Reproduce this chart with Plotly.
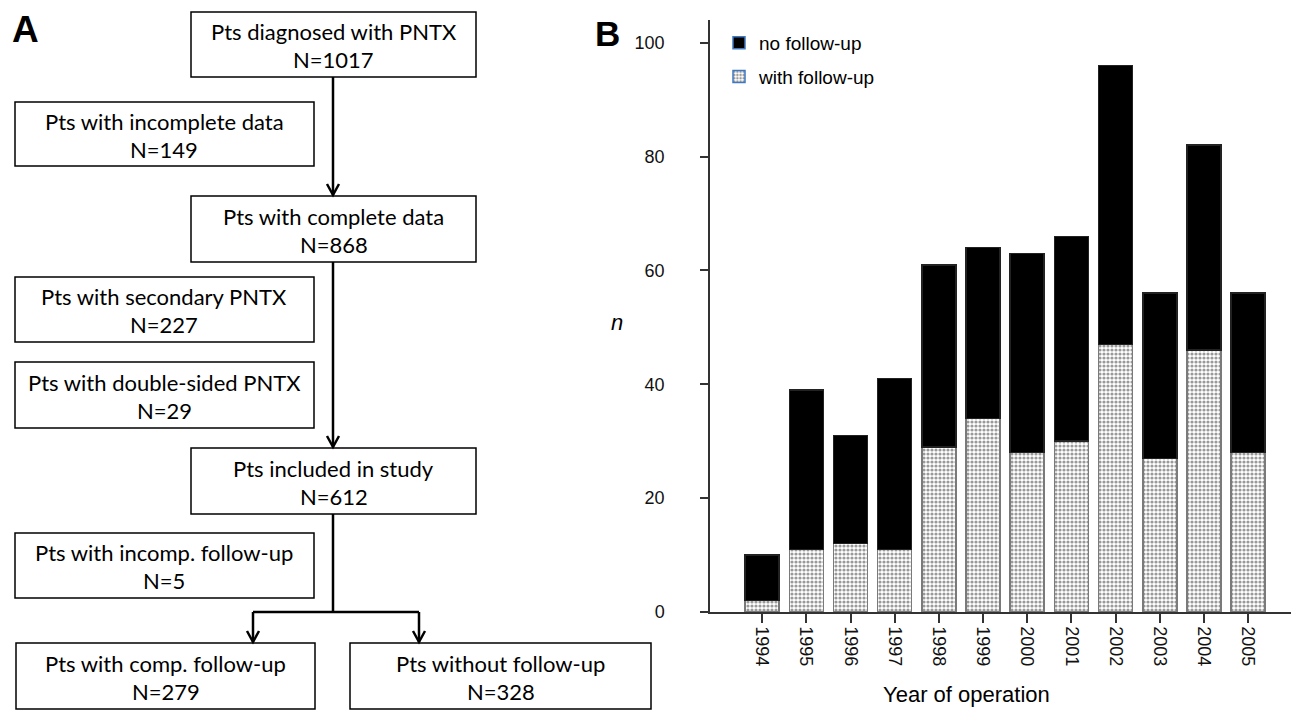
import plotly.graph_objects as go

W, H = 1291, 712          # reference picture size (layout coordinates below are in these pixels)
FIG_H = 722               # the capture is squeezed vertically ~1.4%, so draw a slightly taller page

# ---------------- data ----------------
years = ["1994", "1995", "1996", "1997", "1998", "1999",
         "2000", "2001", "2002", "2003", "2004", "2005"]
with_followup = [2, 11, 12, 11, 29, 34, 28, 30, 47, 27, 46, 28]
no_followup = [8, 28, 19, 30, 32, 30, 35, 36, 49, 29, 36, 28]
y_ticks = [0, 20, 40, 60, 80, 100]

main_labels = ["Pts diagnosed with PNTX", "Pts with complete data", "Pts included in study"]
main_counts = [1017, 868, 612]
excl_labels = ["Pts with incomplete data", "Pts with secondary PNTX",
               "Pts with double-sided PNTX", "Pts with incomp. follow-up"]
excl_counts = [149, 227, 29, 5]
final_labels = ["Pts with comp. follow-up", "Pts without follow-up"]
final_counts = [279, 328]

# ---------------- helpers (picture pixel -> paper) ----------------
def X(px):
    return px / W

def Y(py):
    return 1 - py / H

FLOW_FONT = "Lato"
AX_FONT = "Liberation Sans"

fig = go.Figure()

pattern = dict(shape=".", size=4, solidity=0.5, fgcolor="#333333", bgcolor="white")

fig.add_trace(go.Bar(
    x=years, y=with_followup, name="with follow-up", showlegend=False,
    marker=dict(color="white", pattern=pattern, line=dict(color="#7a7a7a", width=1.6)),
    width=0.77,
))
fig.add_trace(go.Bar(
    x=years, y=no_followup, name="no follow-up", showlegend=False,
    marker=dict(color="black", line=dict(color="#222222", width=1.6)),
    width=0.77,
))
# legend entries
fig.add_trace(go.Bar(
    x=[None], y=[None], name="no follow-up", legendgroup="a",
    marker=dict(color="black", line=dict(color="#3f78c0", width=1.5)),
))
fig.add_trace(go.Bar(
    x=[None], y=[None], name="with follow-up", legendgroup="b",
    marker=dict(color="white", pattern=pattern, line=dict(color="#3f78c0", width=1.5)),
))

shapes = []
annotations = []

def box(x0, y0, x1, y1, label, count):
    shapes.append(dict(type="rect", xref="paper", yref="paper",
                       x0=X(x0), x1=X(x1), y0=Y(y1), y1=Y(y0),
                       line=dict(color="black", width=1.5), fillcolor="white"))
    cx = (x0 + x1) / 2
    cy = (y0 + y1) / 2
    annotations.append(dict(x=X(cx), y=Y(cy - 13), xref="paper", yref="paper",
                            text=label, showarrow=False, xanchor="center", yanchor="middle",
                            font=dict(family=FLOW_FONT, size=22, color="black")))
    annotations.append(dict(x=X(cx), y=Y(cy + 15), xref="paper", yref="paper",
                            text="N=%d" % count, showarrow=False, xanchor="center", yanchor="middle",
                            font=dict(family=FLOW_FONT, size=22, color="black")))

def line(x0, y0, x1, y1):
    shapes.append(dict(type="line", xref="paper", yref="paper",
                       x0=X(x0), y0=Y(y0), x1=X(x1), y1=Y(y1),
                       line=dict(color="black", width=2.5)))

def head(x, y):
    path = "M %f %f L %f %f L %f %f" % (X(x - 6), Y(y - 11), X(x), Y(y), X(x + 6), Y(y - 11))
    shapes.append(dict(type="path", xref="paper", yref="paper", path=path,
                       line=dict(color="black", width=2.5)))

main_boxes = [(191, 12, 476, 77), (191, 196, 476, 262), (191, 448, 476, 514)]
excl_boxes = [(15, 102, 314, 166), (15, 277, 314, 342), (15, 362, 314, 428), (15, 533, 314, 598)]
final_boxes = [(16, 643, 315, 709), (350, 643, 651, 709)]

for b, l, c in zip(main_boxes, main_labels, main_counts):
    box(*b, l, c)
for b, l, c in zip(excl_boxes, excl_labels, excl_counts):
    box(*b, l, c)
for b, l, c in zip(final_boxes, final_labels, final_counts):
    box(*b, l, c)

cxl = 333
line(cxl, 77, cxl, 195); head(cxl, 195)
line(cxl, 262, cxl, 447); head(cxl, 447)
line(cxl, 514, cxl, 612)
line(253, 612, 419, 612)
line(253, 612, 253, 642); head(253, 642)
line(419, 612, 419, 642); head(419, 642)

# panel letters and labels
annotations.append(dict(x=X(25), y=Y(29), xref="paper", yref="paper", text="<b>A</b>",
                        showarrow=False, xanchor="center", yanchor="middle",
                        font=dict(family=AX_FONT, size=37, color="black")))
annotations.append(dict(x=X(607), y=Y(33), xref="paper", yref="paper", text="<b>B</b>",
                        showarrow=False, xanchor="center", yanchor="middle",
                        font=dict(family=AX_FONT, size=35, color="black")))
annotations.append(dict(x=X(617), y=Y(322), xref="paper", yref="paper", text="<i>n</i>",
                        showarrow=False, xanchor="center", yanchor="middle",
                        font=dict(family=AX_FONT, size=22, color="black")))
annotations.append(dict(x=X(966), y=Y(694), xref="paper", yref="paper", text="Year of operation",
                        showarrow=False, xanchor="center", yanchor="middle",
                        font=dict(family=AX_FONT, size=22, color="black")))

n = len(years)
fig.update_layout(
    width=W, height=FIG_H,
    margin=dict(l=0, r=0, t=0, b=0),
    paper_bgcolor="white", plot_bgcolor="white",
    barmode="stack",
    shapes=shapes, annotations=annotations,
    font=dict(family=AX_FONT, size=18, color="#111111"),
    xaxis=dict(domain=[X(710), 1.0], type="category", range=[-1.18, n - 0.03],
               showline=True, linecolor="#333333", linewidth=1.5,
               ticks="outside", ticklen=9, tickcolor="#333333", tickwidth=1.5,
               tickangle=90, tickfont=dict(size=18), showgrid=False, zeroline=False),
    yaxis=dict(domain=[Y(612), Y(20)], range=[0, 104], tickvals=y_ticks,
               showline=True, linecolor="#333333", linewidth=1.5,
               ticks="outside", ticklen=8, tickcolor="#333333", tickwidth=1.5,
               ticklabelstandoff=32, tickfont=dict(size=18),
               showgrid=False, zeroline=False),
    legend=dict(x=X(719), y=Y(24), xanchor="left", yanchor="top",
                traceorder="grouped", tracegroupgap=6,
                font=dict(family=AX_FONT, size=19, color="black"),
                bgcolor="rgba(0,0,0,0)"),
)

fig.write_html("out.html", config={"displayModeBar": False},
               post_script="document.body.style.margin='0';document.documentElement.style.overflow='hidden';")
